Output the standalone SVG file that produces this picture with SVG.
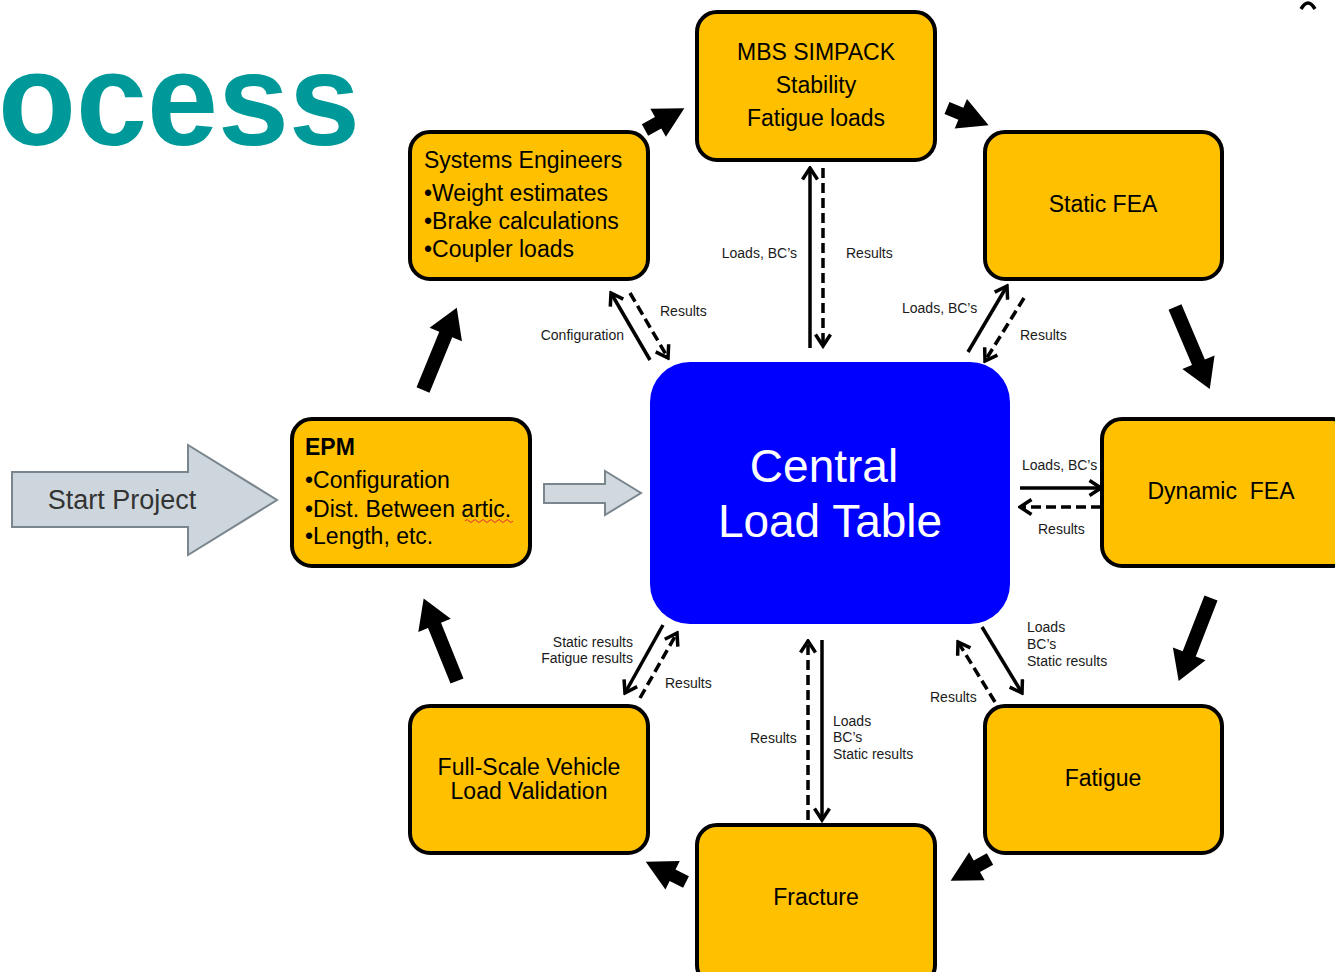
<svg xmlns="http://www.w3.org/2000/svg" xmlns:xlink="http://www.w3.org/1999/xlink" width="1335" height="972" viewBox="0 0 1335 972">
  <style>
    .box { fill: #FFC000; stroke: #000; stroke-width: 4; }
    .txt { font-family: "Liberation Sans", Arial, sans-serif; font-size: 23px; fill: #000; }
    .mid { text-anchor: middle; }
    .lbl { font-family: "Liberation Sans", Arial, sans-serif; font-size: 14px; fill: #1a1a1a; }
    .end { text-anchor: end; }
    .ln { fill: none; stroke: #000; stroke-width: 3.5; }
    .dash { stroke-dasharray: 10 5; }
    .blk { fill: #000; }
  </style>
  <defs>
    <marker id="open" viewBox="0 0 16 18" refX="13.5" refY="9" markerWidth="16" markerHeight="18" markerUnits="userSpaceOnUse" orient="auto">
      <path d="M2,1.5 L13.5,9 L2,16.5" fill="none" stroke="#000" stroke-width="3.5"/>
    </marker>
    <!-- block arrows pointing along +x, tail at origin -->
    <path id="blkLong" d="M0,-7 L60,-7 L60,-17.5 L89,0 L60,17.5 L60,7 L0,7 Z"/>
    <path id="blkShort" d="M0,-6.5 L15,-6.5 L15,-16 L45,0 L15,16 L15,6.5 L0,6.5 Z"/>
  </defs>

  <rect width="1335" height="972" fill="#fff"/>

  <!-- slide title fragment -->
  <text x="-2" y="145" font-family="Liberation Sans, Arial, sans-serif" font-weight="bold" font-size="132" fill="#009999" textLength="362" lengthAdjust="spacingAndGlyphs">ocess</text>
  <path d="M1301,9 Q1308,-3 1315,9" fill="none" stroke="#000" stroke-width="3.5"/>

  <!-- process flow block arrows -->
  <g id="flow" class="blk">
    <use xlink:href="#blkShort" transform="translate(645,130) rotate(-29)"/>
    <use xlink:href="#blkShort" transform="translate(947,108) rotate(22.5)"/>
    <use xlink:href="#blkLong" transform="translate(1175,307) rotate(67)"/>
    <use xlink:href="#blkLong" transform="translate(1211,598) rotate(111.3)"/>
    <use xlink:href="#blkShort" transform="translate(990,859) rotate(151)"/>
    <use xlink:href="#blkShort" transform="translate(686,882) rotate(-153.4)"/>
    <use xlink:href="#blkLong" transform="translate(457,681) rotate(-112)"/>
    <use xlink:href="#blkLong" transform="translate(423,390) rotate(-67.7)"/>
  </g>

  <!-- start arrow -->
  <g id="start">
    <polygon points="12,472 188,472 188,445 277,500 188,555 188,527 12,527" fill="#CDD6DC" stroke="#7A868E" stroke-width="2"/>
    <text x="122" y="509" font-family="Liberation Sans, Arial, sans-serif" font-size="27" fill="#333" text-anchor="middle">Start Project</text>
  </g>

  <!-- EPM to table hollow arrow -->
  <polygon points="544,484 605,484 605,471 641,493 605,515 605,503 544,503" fill="#D2D9DE" stroke="#7A868E" stroke-width="2"/>

  <!-- central table -->
  <g id="central">
    <rect x="650" y="362" width="360" height="262" rx="40" fill="#0000FF"/>
    <text x="824" y="482" font-family="Liberation Sans, Arial, sans-serif" font-size="46" fill="#fff" text-anchor="middle">Central</text>
    <text x="830" y="537" font-family="Liberation Sans, Arial, sans-serif" font-size="46" fill="#fff" text-anchor="middle">Load Table</text>
  </g>

  <g id="mbs">
    <rect class="box" x="697" y="12" width="238" height="148" rx="20"/>
    <text class="txt mid" x="816" y="60">MBS SIMPACK</text>
    <text class="txt mid" x="816" y="93">Stability</text>
    <text class="txt mid" x="816" y="126">Fatigue loads</text>
  </g>

  <g id="systems">
    <rect class="box" x="410" y="132" width="238" height="147" rx="20"/>
    <text class="txt" x="424" y="168">Systems Engineers</text>
    <text class="txt" x="424" y="201">•Weight estimates</text>
    <text class="txt" x="424" y="229">•Brake calculations</text>
    <text class="txt" x="424" y="257">•Coupler loads</text>
  </g>

  <g id="static">
    <rect class="box" x="985" y="132" width="237" height="147" rx="20"/>
    <text class="txt mid" x="1103" y="212">Static FEA</text>
  </g>

  <g id="epm">
    <rect class="box" x="292" y="419" width="238" height="147" rx="20"/>
    <text class="txt" x="305" y="455" font-weight="bold">EPM</text>
    <text class="txt" x="305" y="488">•Configuration</text>
    <text class="txt" x="305" y="517">•Dist. Between artic.</text>
    <text class="txt" x="305" y="544">•Length, etc.</text>
    <path d="M465,521 q2,-3 4,0 t4,0 t4,0 t4,0 t4,0 t4,0 t4,0 t4,0 t4,0 t4,0 t4,0 t4,0" fill="none" stroke="#E03030" stroke-width="1"/>
  </g>

  <g id="dynamic">
    <rect class="box" x="1102" y="419" width="250" height="147" rx="20"/>
    <text class="txt mid" x="1221" y="499" xml:space="preserve">Dynamic  FEA</text>
  </g>

  <g id="fullscale">
    <rect class="box" x="410" y="706" width="238" height="147" rx="20"/>
    <text class="txt mid" x="529" y="775">Full-Scale Vehicle</text>
    <text class="txt mid" x="529" y="799">Load Validation</text>
  </g>

  <g id="fatigue">
    <rect class="box" x="985" y="706" width="237" height="147" rx="20"/>
    <text class="txt mid" x="1103" y="786">Fatigue</text>
  </g>

  <g id="fracture">
    <rect class="box" x="697" y="825" width="238" height="160" rx="20"/>
    <text class="txt mid" x="816" y="905">Fracture</text>
  </g>

  <!-- data exchange connectors -->
  <g id="connectors">
    <line class="ln" x1="810" y1="348" x2="810" y2="168" marker-end="url(#open)"/>
    <line class="ln dash" x1="823" y1="168" x2="823" y2="346" marker-end="url(#open)"/>

    <line class="ln" x1="650" y1="360" x2="611" y2="293" marker-end="url(#open)"/>
    <line class="ln dash" x1="630" y1="293" x2="668" y2="358" marker-end="url(#open)"/>

    <line class="ln" x1="968" y1="352" x2="1007" y2="286" marker-end="url(#open)"/>
    <line class="ln dash" x1="1024" y1="298" x2="985" y2="361" marker-end="url(#open)"/>

    <line class="ln" x1="1020" y1="488" x2="1101" y2="488" marker-end="url(#open)"/>
    <line class="ln dash" x1="1101" y1="507" x2="1020" y2="507" marker-end="url(#open)"/>

    <line class="ln" x1="663" y1="625" x2="625" y2="693" marker-end="url(#open)"/>
    <line class="ln dash" x1="640" y1="698" x2="677" y2="633" marker-end="url(#open)"/>

    <line class="ln" x1="982" y1="627" x2="1022" y2="693" marker-end="url(#open)"/>
    <line class="ln dash" x1="995" y1="702" x2="958" y2="642" marker-end="url(#open)"/>

    <line class="ln dash" x1="808" y1="820" x2="808" y2="641" marker-end="url(#open)"/>
    <line class="ln" x1="822" y1="640" x2="822" y2="820" marker-end="url(#open)"/>
  </g>

  <g id="labels">
    <text class="lbl end" x="797" y="258">Loads, BC’s</text>
    <text class="lbl" x="846" y="258">Results</text>
    <text class="lbl end" x="624" y="340">Configuration</text>
    <text class="lbl" x="660" y="316">Results</text>
    <text class="lbl" x="902" y="313">Loads, BC’s</text>
    <text class="lbl" x="1020" y="340">Results</text>
    <text class="lbl" x="1022" y="470">Loads, BC’s</text>
    <text class="lbl" x="1038" y="534">Results</text>
    <text class="lbl end" x="633" y="647">Static results</text>
    <text class="lbl end" x="633" y="663">Fatigue results</text>
    <text class="lbl" x="665" y="688">Results</text>
    <text class="lbl" x="1027" y="632">Loads</text>
    <text class="lbl" x="1027" y="649">BC’s</text>
    <text class="lbl" x="1027" y="666">Static results</text>
    <text class="lbl" x="930" y="702">Results</text>
    <text class="lbl" x="750" y="743">Results</text>
    <text class="lbl" x="833" y="726">Loads</text>
    <text class="lbl" x="833" y="742">BC’s</text>
    <text class="lbl" x="833" y="759">Static results</text>
  </g>
</svg>
